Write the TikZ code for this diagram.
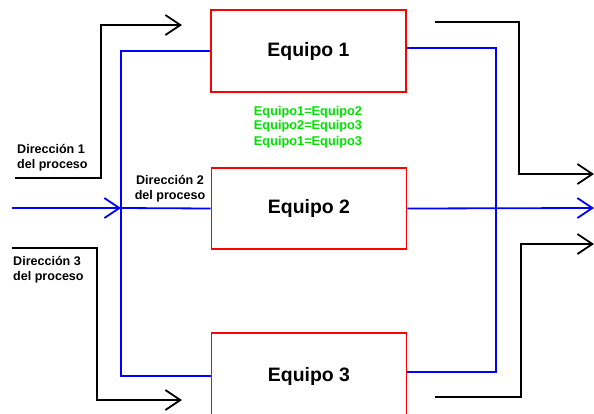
\documentclass[tikz,border=0pt]{standalone}
\usepackage{fontspec}
\setmainfont{Liberation Sans}
\usetikzlibrary{arrows.meta,calc}
\definecolor{eqred}{RGB}{255,0,0}
\definecolor{eqblue}{RGB}{0,0,255}
\definecolor{eqgreen}{RGB}{0,225,0}
\tikzset{
  equipo/.style={draw=eqred, line width=1.8bp, minimum width=195bp, inner sep=0pt,
                 font=\bfseries\fontsize{19.5}{22}\selectfont},
  flow/.style={draw=eqblue, line width=1.8bp},
  route/.style={draw=black, line width=1.8bp},
  barb/.style={-{Straight Barb[length=15bp,width=20bp]}},
  dirlabel/.style={inner sep=0pt, font=\bfseries\fontsize{12.6}{15}\selectfont},
  eqnote/.style={inner sep=0pt, text=eqgreen, font=\bfseries\fontsize{12.8}{14}\selectfont}
}
\begin{document}
\begin{tikzpicture}[x=1bp,y=-1bp]
  \useasboundingbox (0,0) rectangle (594,413);

  % equipment boxes
  \node[equipo, minimum height=82bp] (box1) at (308.5,51) {Equipo 1};
  \node[equipo, minimum height=81bp] (box2) at (309,208.5) {Equipo 2};
  \node[equipo, minimum height=86bp] (box3) at (309,376) {Equipo 3};

  % equivalence notes
  \node[eqnote] (n1) at (308,112) {Equipo1=Equipo2};
  \node[eqnote] (n2) at (308,126.5) {Equipo2=Equipo3};
  \node[eqnote] (n3) at (308,142) {Equipo1=Equipo3};

  % direction labels
  \node[dirlabel, align=left, anchor=west] (dir1) at (17,158) {Dirección 1\\del proceso};
  \node[dirlabel, align=center] (dir2) at (170,189) {Dirección 2\\del proceso};
  \node[dirlabel, align=left, anchor=west] (dir3) at (13,270) {Dirección 3\\del proceso};

  % blue distribution (direction 2)
  \coordinate (in2) at (12,208);
  \coordinate (bus2) at (121,208);
  \coordinate (rbus) at (496,208);
  \coordinate (out2) at (594,208);
  \coordinate (r1) at ($(box1.east)+(0,-3)$);
  \coordinate (r3) at ($(box3.east)+(0,-4)$);
  \draw[flow, barb] (in2) -- (bus2);
  \draw[flow] (bus2) -- (box2.west);
  \draw[flow] (box1.west) -| (bus2) |- (box3.west);
  \draw[flow] (r1) -| (rbus) |- (r3);
  \draw[flow, barb] (box2.east) -- (out2);

  % black routes (directions 1 and 3)
  \coordinate (d1s) at (15,178);
  \coordinate (k1) at (101,25);
  \coordinate (a1) at (182,25);
  \draw[route, barb] (d1s) -| (k1) -- (a1);

  \coordinate (d3s) at (12,248);
  \coordinate (k3) at (97,400);
  \coordinate (a3) at (182,400);
  \draw[route, barb] (d3s) -| (k3) -- (a3);

  \coordinate (e1s) at (435,22);
  \coordinate (k4) at (519,174);
  \coordinate (a4) at (594,174);
  \draw[route, barb] (e1s) -| (k4) -- (a4);

  \coordinate (e2s) at (435,397);
  \coordinate (k5) at (521,244);
  \coordinate (a5) at (594,244);
  \draw[route, barb] (e2s) -| (k5) -- (a5);
\end{tikzpicture}
\end{document}
